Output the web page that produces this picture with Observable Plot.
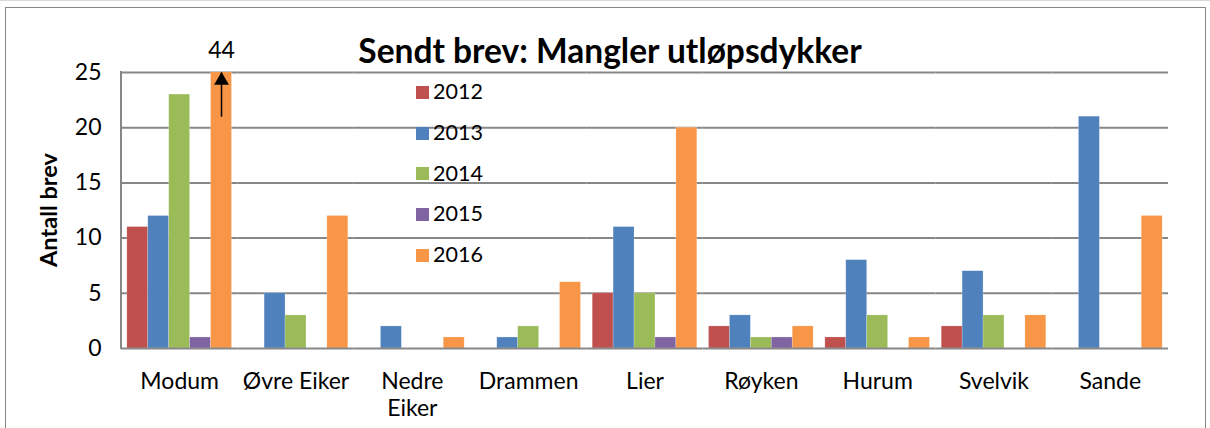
<!DOCTYPE html>
<html>
<head>
<meta charset="utf-8">
<script src="https://cdn.jsdelivr.net/npm/d3@7"></script>
<script src="https://cdn.jsdelivr.net/npm/@observablehq/plot@0.6"></script>
<style>
  html, body { margin: 0; padding: 0; background: #fff; }
  #wrap { position: relative; width: 1210px; height: 428px; overflow: hidden; font-family: Lato, "Open Sans", sans-serif; color: #000; }
  #topline { position: absolute; left: 0; top: 0; width: 1210px; height: 1px; background: #d9d9d9; }
  #border { position: absolute; left: 5px; top: 7px; width: 1201px; height: 440px; border: 1px solid #888; box-sizing: border-box; }
  #title { position: absolute; left: 0; width: 1220px; top: 31px; text-align: center; font-weight: bold; font-size: 33.5px; line-height: 38px; }
  #ylabel { position: absolute; left: 48px; top: 210px; transform: translate(-50%, -50%) rotate(-90deg); font-weight: bold; font-size: 23.5px; white-space: nowrap; }
  #legend { position: absolute; left: 416px; top: 71px; font-size: 21.5px; }
  .item { position: relative; height: 40.7px; display: flex; align-items: center; }
  .sw { width: 13px; height: 13px; margin-right: 4px; margin-top: 2px; }
  #chart { position: absolute; left: 0; top: 0; }
</style>
</head>
<body>
<div id="wrap">
  <div id="topline"></div>
  <div id="border"></div>
  <div id="chart"></div>
  <div id="title">Sendt brev: Mangler utløpsdykker</div>
  <div id="ylabel">Antall brev</div>
  <div id="legend"></div>
</div>
<script>
const categories = ["Modum", "Øvre Eiker", "Nedre Eiker", "Drammen", "Lier", "Røyken", "Hurum", "Svelvik", "Sande"];
const years = ["2012", "2013", "2014", "2015", "2016"];
const v2012 = [11, 0, 0, 0, 5, 2, 1, 2, 0];
const v2013 = [12, 5, 2, 1, 11, 3, 8, 7, 21];
const v2014 = [23, 3, 0, 2, 5, 1, 3, 3, 0];
const v2015 = [1, 0, 0, 0, 1, 1, 0, 0, 0];
const v2016 = [44, 12, 1, 6, 20, 2, 1, 3, 12];
const yTicks = [0, 5, 10, 15, 20, 25];
const colors = ["#C0504D", "#4F81BD", "#9BBB59", "#8064A2", "#F79646"];
const overflowNote = [{cat: "Modum", year: "2016", label: "44", y1: 21, y2: 25}];

const series = [v2012, v2013, v2014, v2015, v2016];
const data = [];
categories.forEach((c, i) => years.forEach((y, j) => data.push({cat: c, year: y, value: series[j][i]})));

const font = "Lato, 'Open Sans', sans-serif";
const chart = Plot.plot({
  width: 1210,
  height: 428,
  marginLeft: 121,
  marginRight: 42,
  marginTop: 72,
  marginBottom: 80,
  style: {fontFamily: font, background: "transparent", overflow: "visible"},
  fx: {domain: categories, paddingInner: 0, paddingOuter: 0, round: false, label: null},
  x: {domain: years, paddingInner: 0, paddingOuter: 0.28, round: false, axis: null},
  y: {domain: [0, 25], label: null},
  color: {domain: years, range: colors},
  marks: [
    Plot.gridY(yTicks.slice(1), {stroke: "#878787", strokeOpacity: 1, strokeWidth: 2}),
    Plot.barY(data, {fx: "cat", x: "year", y: "value", fill: "year", clip: true, stroke: "#fff", strokeOpacity: 0.35, strokeWidth: 0.6}),
    Plot.ruleY([0], {stroke: "#878787", strokeWidth: 2}),
    Plot.axisY({ticks: yTicks, tickSize: 0, tickPadding: 20, fontSize: 23, label: null}),
    Plot.axisFx({anchor: "bottom", tickSize: 0, tickPadding: 21, fontSize: 23, lineHeight: 1.17, label: null,
      tickFormat: d => d === "Nedre Eiker" ? "Nedre\nEiker" : d}),
    Plot.link(overflowNote, {fx: "cat", x1: "year", x2: "year", y1: "y1", y2: "y2", stroke: "#000", strokeWidth: 1.5}),
    Plot.dot(overflowNote, {fx: "cat", x: "year", y: "y2", symbol: "triangle", r: 5.5, fill: "#000", dy: 8}),
    Plot.text(overflowNote, {fx: "cat", x: "year", y: "y2", text: "label", dy: -22, fontSize: 23})
  ]
});
document.getElementById("chart").appendChild(chart);

// left axis line from the y scale range
const ys = chart.scale("y");
const svg = d3.select(chart.tagName.toLowerCase() === "svg" ? chart : chart.querySelector("svg"));
svg.append("line")
  .attr("x1", 121).attr("x2", 121)
  .attr("y1", ys.apply(25) - 1).attr("y2", ys.apply(0) + 1)
  .attr("stroke", "#878787").attr("stroke-width", 2);

const legend = d3.select("#legend");
years.forEach((y, i) => {
  const it = legend.append("div").attr("class", "item");
  it.append("div").attr("class", "sw").style("background", colors[i]);
  it.append("span").text(y);
});
</script>
</body>
</html>
